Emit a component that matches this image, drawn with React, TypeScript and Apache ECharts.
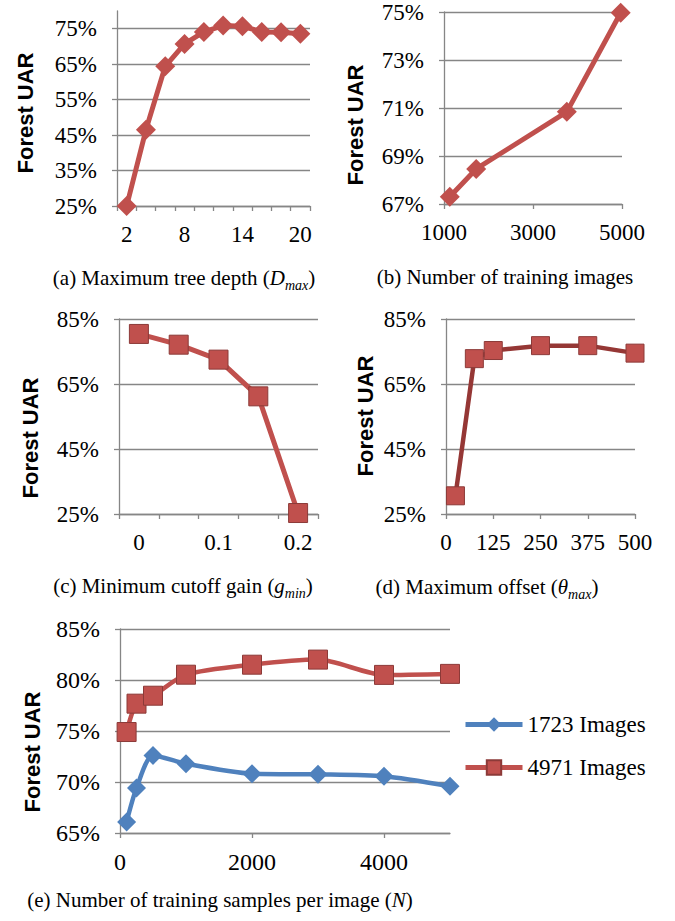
import React, { useEffect, useRef } from "react";
import * as echarts from "echarts";

// (a) Maximum tree depth
const aDepth = ["2", "4", "6", "8", "10", "12", "14", "16", "18", "20"];
const aUAR = [25.0, 46.5, 64.4, 70.7, 74.1, 75.9, 75.7, 74.1, 74.0, 73.6];
const aYTicks = [25, 35, 45, 55, 65, 75];

// (b) Number of training images
const bImages = [1130, 1723, 3760, 4971];
const bUAR = [67.3, 68.46, 70.84, 74.97];
const bYTicks = [67, 69, 71, 73, 75];
const bXTicks = [1000, 3000, 5000];

// (c) Minimum cutoff gain
const cGain = ["0", "0.05", "0.1", "0.15", "0.2"];
const cUAR = [80.4, 77.1, 72.5, 61.2, 25.3];

// (d) Maximum offset
const dOffset = [25, 75, 125, 250, 375, 500];
const dUAR = [30.6, 72.8, 75.3, 76.8, 76.8, 74.5];
const cdYTicks = [25, 45, 65, 85];

// (e) Number of training samples per image
const eSamples = [100, 250, 500, 1000, 2000, 3000, 4000, 5000];
const e1723 = [66.08, 69.41, 72.61, 71.8, 70.82, 70.75, 70.56, 69.58];
const e4971 = [74.9, 77.68, 78.46, 80.52, 81.5, 82.0, 80.5, 80.6];
const eXTicks = [0, 2000, 4000];
const eNames = ["1723 Images", "4971 Images"];

const RED = "#C0504D";
const RED_DARK = "#953735";
const RED_EDGE = "#8C3A38";
const BLUE = "#4F81BD";
const GRID = "#868686";
const SERIF = "Liberation Serif";
const SANS = "Liberation Sans";

const pct = (v: number) => `${Math.round(v)}%`;
const plain = (v: number) => String(v);

function valueY(gridIndex: number, min: number, max: number, ticks: number[]) {
  return {
    type: "value",
    gridIndex,
    min,
    max,
    axisLine: { show: true, lineStyle: { color: GRID, width: 1.3 } },
    axisTick: { show: true, length: 5, customValues: ticks, lineStyle: { color: GRID, width: 1.3 } },
    axisLabel: {
      customValues: ticks,
      formatter: pct,
      margin: 20,
      fontFamily: SERIF,
      fontSize: 23,
      color: "#000",
    },
    splitLine: { show: true, lineStyle: { color: GRID, width: 1.3 } },
  };
}

function catX(gridIndex: number, data: string[], labelInterval: number) {
  return {
    type: "category",
    gridIndex,
    data,
    boundaryGap: true,
    axisLine: { show: true, lineStyle: { color: GRID, width: 1.3 } },
    axisTick: { show: true, length: 5, interval: 0, lineStyle: { color: GRID, width: 1.3 } },
    axisLabel: {
      interval: labelInterval,
      margin: 17,
      fontFamily: SERIF,
      fontSize: 23,
      color: "#000",
    },
    splitLine: { show: false },
  };
}

function valX(gridIndex: number, min: number, max: number, extra: any) {
  return {
    type: "value",
    gridIndex,
    min,
    max,
    axisLine: { show: true, onZero: false, lineStyle: { color: GRID, width: 1.3 } },
    axisTick: { show: true, length: 5, lineStyle: { color: GRID, width: 1.3 }, ...(extra.tick || {}) },
    axisLabel: {
      margin: 17,
      formatter: plain,
      fontFamily: SERIF,
      fontSize: 23,
      color: "#000",
      ...(extra.label || {}),
    },
    splitLine: { show: false },
    ...(extra.axis || {}),
  };
}

function caption(x: number, y: number, parts: [string, string][]) {
  const text = parts.map(([k, t]) => `{${k}|${t}}`).join("");
  return {
    type: "text",
    x,
    y,
    style: {
      text,
      align: "center",
      verticalAlign: "middle",
      rich: {
        n: { fontFamily: SERIF, fontSize: 21, lineHeight: 28, verticalAlign: "middle", fill: "#000" },
        i: { fontFamily: SERIF, fontSize: 21, fontStyle: "italic", lineHeight: 28, verticalAlign: "middle", fill: "#000" },
        s: { fontFamily: SERIF, fontSize: 14, fontStyle: "italic", lineHeight: 28, verticalAlign: "bottom", fill: "#000" },
      },
    },
  };
}

function yTitle(x: number, y: number) {
  return {
    type: "text",
    x,
    y,
    rotation: Math.PI / 2,
    style: {
      text: "Forest UAR",
      align: "center",
      verticalAlign: "middle",
      fontFamily: SANS,
      fontWeight: "bold",
      fontSize: 22,
      fill: "#000",
    },
  };
}

export default function App() {
  const ref = useRef<HTMLDivElement>(null);

  useEffect(() => {
    if (!ref.current) return;
    const chart = echarts.init(ref.current, null, { renderer: "svg" });

    const option: any = {
      animation: false,
      backgroundColor: "#fff",
      grid: [
        { left: 117, top: 11, width: 193, height: 195 },
        { left: 444, top: 12, width: 178, height: 192 },
        { left: 119, top: 319, width: 199, height: 195 },
        { left: 446, top: 319, width: 189, height: 195 },
        { left: 120, top: 629, width: 330, height: 204 },
      ],
      xAxis: [
        catX(0, aDepth, 2),
        valX(1, 1000, 5000, {
          tick: { customValues: bXTicks },
          label: { customValues: bXTicks },
        }),
        catX(2, cGain, 1),
        valX(3, 0, 500, { axis: { interval: 125 } }),
        valX(4, 0, 5000, {
          tick: { customValues: eXTicks },
          label: { customValues: eXTicks, fontSize: 24 },
        }),
      ],
      yAxis: [
        valueY(0, 25, 80, aYTicks),
        valueY(1, 67, 75, bYTicks),
        valueY(2, 25, 85, cdYTicks),
        valueY(3, 25, 85, cdYTicks),
        {
          ...valueY(4, 65, 85, []),
          axisTick: { show: true, length: 5, lineStyle: { color: GRID, width: 1.3 } },
          axisLabel: { formatter: pct, margin: 20, fontFamily: SERIF, fontSize: 24, color: "#000" },
          interval: 5,
        },
      ],
      legend: {
        data: eNames,
        orient: "vertical",
        left: 458,
        top: 708,
        itemWidth: 57,
        itemHeight: 18,
        itemGap: 20,
        lineStyle: { width: 5 },
        textStyle: { fontFamily: SERIF, fontSize: 23, color: "#000" },
      },
      series: [
        {
          type: "line",
          xAxisIndex: 0,
          yAxisIndex: 0,
          data: aUAR,
          showAllSymbol: true,
          symbol: "diamond",
          symbolSize: 20,
          lineStyle: { color: RED, width: 5 },
          itemStyle: { color: RED },
        },
        {
          type: "line",
          xAxisIndex: 1,
          yAxisIndex: 1,
          data: bImages.map((x, i) => [x, bUAR[i]]),
          showAllSymbol: true,
          symbol: "diamond",
          symbolSize: 20,
          lineStyle: { color: RED, width: 5 },
          itemStyle: { color: RED },
        },
        {
          type: "line",
          xAxisIndex: 2,
          yAxisIndex: 2,
          data: cUAR,
          showAllSymbol: true,
          symbol: "rect",
          symbolSize: 19,
          lineStyle: { color: RED, width: 5 },
          itemStyle: { color: RED, borderColor: RED_EDGE, borderWidth: 1 },
        },
        {
          type: "line",
          xAxisIndex: 3,
          yAxisIndex: 3,
          data: dOffset.map((x, i) => [x, dUAR[i]]),
          showAllSymbol: true,
          symbol: "rect",
          symbolSize: 18,
          lineStyle: { color: RED_DARK, width: 4.5 },
          itemStyle: { color: RED, borderColor: RED_EDGE, borderWidth: 1 },
        },
        {
          name: eNames[0],
          type: "line",
          xAxisIndex: 4,
          yAxisIndex: 4,
          data: eSamples.map((x, i) => [x, e1723[i]]),
          showAllSymbol: true,
          smooth: 0.25,
          symbol: "diamond",
          symbolSize: 19,
          lineStyle: { color: BLUE, width: 4.5 },
          itemStyle: { color: BLUE },
        },
        {
          name: eNames[1],
          type: "line",
          xAxisIndex: 4,
          yAxisIndex: 4,
          data: eSamples.map((x, i) => [x, e4971[i]]),
          showAllSymbol: true,
          smooth: 0.25,
          symbol: "rect",
          symbolSize: 19,
          lineStyle: { color: RED, width: 4.5 },
          itemStyle: { color: RED, borderColor: RED_EDGE, borderWidth: 1 },
        },
      ],
      graphic: [
        yTitle(25, 113),
        yTitle(355, 125),
        yTitle(30, 438),
        yTitle(365, 416),
        yTitle(32, 752),
        caption(184, 278, [["n", "(a) Maximum tree depth ("], ["i", "D"], ["s", "max"], ["n", ")"]]),
        caption(505, 277, [["n", "(b) Number of training images"]]),
        caption(183, 586, [["n", "(c) Minimum cutoff gain ("], ["i", "g"], ["s", "min"], ["n", ")"]]),
        caption(487, 587, [["n", "(d) Maximum offset ("], ["i", "θ"], ["s", "max"], ["n", ")"]]),
        caption(220, 900, [["n", "(e) Number of training samples per image ("], ["i", "N"], ["n", ")"]]),
      ],
    };

    chart.setOption(option);
    return () => chart.dispose();
  }, []);

  return (
    <div
      ref={ref}
      style={{ position: "absolute", left: 0, top: 0, width: 675, height: 921, background: "#fff" }}
    />
  );
}
